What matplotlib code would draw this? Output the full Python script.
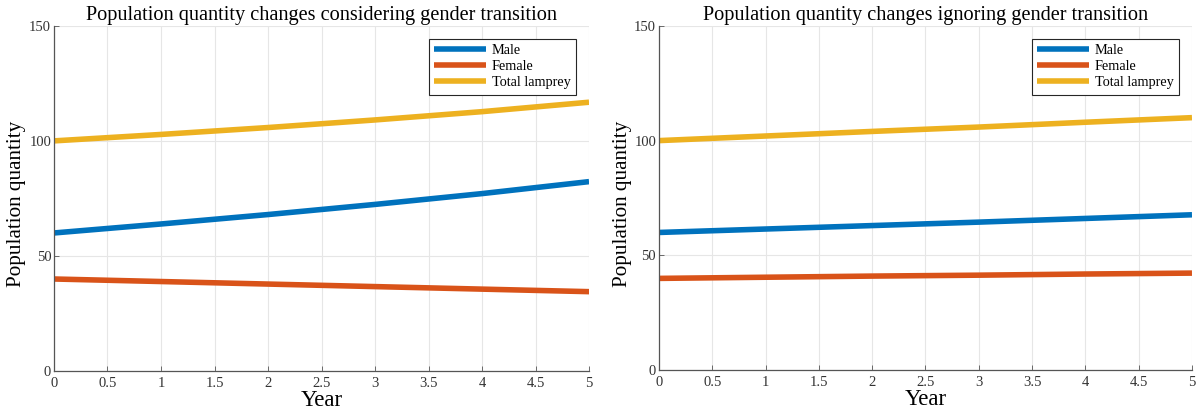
import matplotlib
matplotlib.use("Agg")
import matplotlib.pyplot as plt

plt.rcParams['font.family'] = ['Liberation Serif', 'DejaVu Serif']

years = [0, 1, 2, 3, 4, 5]

# considering gender transition
male_c = [60, 63.9, 68.0, 72.4, 77.1, 82.3]
female_c = [40, 38.9, 37.8, 36.7, 35.6, 34.5]
total_c = [100, 102.8, 105.8, 109.1, 112.7, 116.8]

# ignoring gender transition
male_i = [60, 61.5, 63.0, 64.5, 66.1, 67.7]
female_i = [40, 40.5, 41.0, 41.4, 41.9, 42.3]
total_i = [100, 102.0, 104.0, 105.9, 108.0, 110.0]

labels = ['Male', 'Female', 'Total lamprey']
colors = ['#0072BD', '#D95319', '#EDB120']
titles = ['Population quantity changes considering gender transition',
          'Population quantity changes ignoring gender transition']
xticks = [0, 0.5, 1, 1.5, 2, 2.5, 3, 3.5, 4, 4.5, 5]
xticklabels = ['0', '0.5', '1', '1.5', '2', '2.5', '3', '3.5', '4', '4.5', '5']
yticks = [0, 50, 100, 150]

fig = plt.figure(figsize=(11.97, 4.16), dpi=100)
positions = [[0.0451, 0.108, 0.447, 0.830], [0.5505, 0.110, 0.4453, 0.828]]
ylabel_x = [-0.052, -0.051]
datasets = [(male_c, female_c, total_c), (male_i, female_i, total_i)]

for pos, data, title, lx in zip(positions, datasets, titles, ylabel_x):
    ax = fig.add_axes(pos)
    for series, c, lab in zip(data, colors, labels):
        ax.plot(years, series, color=c, lw=4, label=lab, solid_capstyle='butt')
    ax.set_xlim(0, 5)
    ax.set_ylim(0, 150)
    ax.set_xticks(xticks)
    ax.set_xticklabels(xticklabels)
    ax.set_yticks(yticks)
    ax.grid(True, color='#e6e6e6', lw=0.8)
    ax.set_axisbelow(True)
    for s in ['top', 'right']:
        ax.spines[s].set_visible(False)
    for s in ['left', 'bottom']:
        ax.spines[s].set_color('#555555')
        ax.spines[s].set_linewidth(0.9)
    ax.tick_params(axis='both', direction='in', labelsize=10.5, colors='#555555',
                   labelcolor='#333333', length=3.5, width=0.6)
    ax.tick_params(axis='x', pad=4)
    ax.tick_params(axis='y', pad=2)
    ax.set_title(title, fontsize=14.6, pad=4)
    ax.set_xlabel('Year', fontsize=16.5, labelpad=0)
    ax.set_ylabel('Population quantity', fontsize=15.2)
    ax.yaxis.set_label_coords(lx, 0.484)
    leg = ax.legend(loc='upper right', fontsize=10.3, fancybox=False, framealpha=1,
                    edgecolor='#262626', handlelength=3.6, borderaxespad=0.9,
                    labelspacing=0.2, handletextpad=0.4, borderpad=0.4)
    leg.get_frame().set_linewidth(0.8)

fig.savefig('out.png', dpi=100)
